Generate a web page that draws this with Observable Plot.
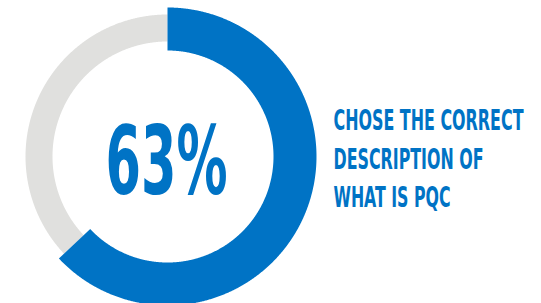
<!DOCTYPE html>
<html><head><meta charset="utf-8">
<script src="https://cdn.jsdelivr.net/npm/d3@7"></script>
<script src="https://cdn.jsdelivr.net/npm/@observablehq/plot@0.6"></script>
<style>html,body{margin:0;padding:0;background:#fff}</style>
</head><body><div id="chart"></div>
<script>
// ---- data ----
const segments = ["Correct", "Other"];
const shares = [63, 37];
const centerLabel = ["63%"];
const captionLines = ["CHOSE THE CORRECT", "DESCRIPTION OF", "WHAT IS PQC"];

// ---- layout / style ----
const W = 541, H = 303, CX = 167, CY = 156;
const BLUE = "#0073C5", GRAY = "#E0E0DE";
const ring = {
  Correct: {r0: 106, r1: 149, color: BLUE},
  Other:   {r0: 115, r1: 142, color: GRAY}
};
const FONT = "'Liberation Sans Narrow','DejaVu Sans Condensed','Liberation Sans',sans-serif";

const total = d3.sum(shares);
let acc = 0;
const polys = {};
segments.forEach((s, i) => {
  const a0 = acc / total * 2 * Math.PI;
  acc += shares[i];
  const a1 = acc / total * 2 * Math.PI;
  const n = Math.max(2, Math.ceil((a1 - a0) / 0.005));
  const {r0, r1} = ring[s];
  const pts = [];
  for (let k = 0; k <= n; k++) { const a = a0 + (a1 - a0) * k / n; pts.push({x: r1 * Math.sin(a), y: r1 * Math.cos(a)}); }
  for (let k = n; k >= 0; k--) { const a = a0 + (a1 - a0) * k / n; pts.push({x: r0 * Math.sin(a), y: r0 * Math.cos(a)}); }
  polys[s] = pts;
});

const chart = Plot.plot({
  width: W, height: H, margin: 0,
  x: {domain: [-CX, W - CX], axis: null},
  y: {domain: [CY - H, CY], axis: null},
  style: {background: "transparent"},
  marks: [
    ...segments.slice().reverse().map(s =>
      Plot.line(polys[s], {x: "x", y: "y", fill: ring[s].color, stroke: "none", curve: "linear"})),
    Plot.text(centerLabel, {
      x: () => -1, y: () => -7, text: d => d, textAnchor: "middle",
      fontSize: 94, fontWeight: 700, fontFamily: FONT, fill: BLUE
    }),
    Plot.text(captionLines, {
      x: () => 166, y: (d, i) => 35 - i * 38.5, text: d => d, textAnchor: "start",
      fontSize: 27.5, fontWeight: 700, fontFamily: FONT, fill: BLUE
    })
  ]
});

// squeeze glyphs to the narrow display face of the original
const widths = [122, 190, 150, 117];
d3.select(chart).selectAll("text")
  .attr("textLength", (d, i) => widths[i]).attr("lengthAdjust", "spacingAndGlyphs");

document.getElementById("chart").appendChild(chart);
</script>
</body></html>
